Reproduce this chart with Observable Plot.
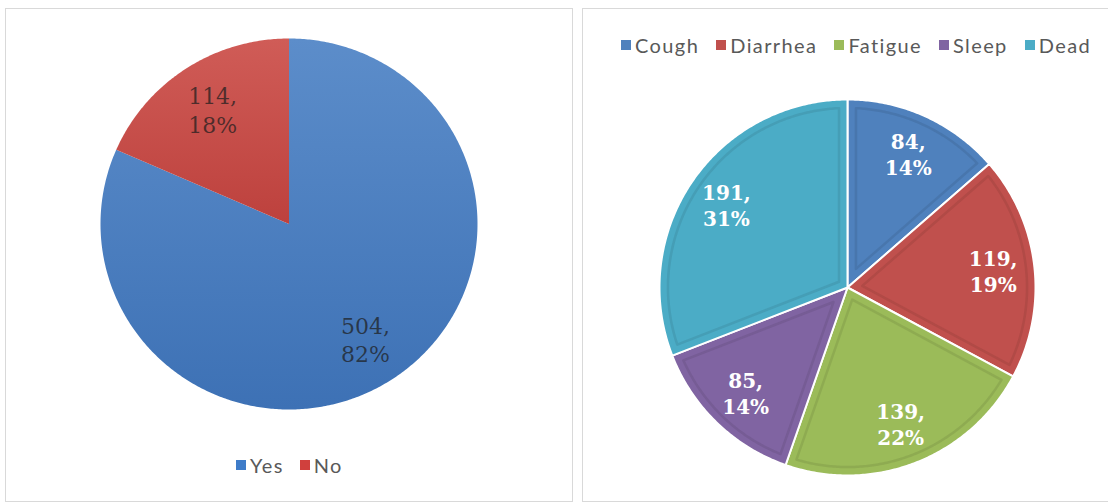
<!DOCTYPE html>
<html>
<head>
<meta charset="utf-8">
<script src="https://cdn.jsdelivr.net/npm/d3@7"></script>
<script src="https://cdn.jsdelivr.net/npm/@observablehq/plot@0.6"></script>
<style>
  body { margin: 0; width: 1108px; height: 504px; position: relative; overflow: hidden; background: #fff; font-family: Lato, "Open Sans", sans-serif; }
  .panel { position: absolute; box-sizing: border-box; border: 1px solid #d9d9d9; background: #fff; }
  .chart { position: absolute; }
  .chart svg { display: block; overflow: visible; }
  .legend { position: absolute; display: flex; align-items: center; color: #595959; font-size: 20px; letter-spacing: 1.4px; white-space: nowrap; }
  .legend .item { display: flex; align-items: center; }
  .legend .sw { display: inline-block; width: 10px; height: 10px; margin-right: 4px; }
</style>
</head>
<body>
<div class="panel" style="left:5px; top:8px; width:568px; height:494px;"></div>
<div class="panel" style="left:582px; top:8px; width:532px; height:494px;"></div>
<div class="chart" id="pieAnswer" style="left:98px; top:36px;"></div>
<div class="chart" id="pieSymptom" style="left:657px; top:97px;"></div>
<div class="legend" id="legendAnswer" style="left:236px; top:453px;"></div>
<div class="legend" id="legendSymptom" style="left:621px; top:33px;"></div>

<script>
// Survey answers (left pie)
const answers = ["Yes", "No"];
const answerCounts = [504, 114];
const answerColors = ["#4f81bd", "#c0504d"];

// Reported outcomes (right pie)
const symptoms = ["Cough", "Diarrhea", "Fatigue", "Sleep", "Dead"];
const symptomCounts = [84, 119, 139, 85, 191];
const symptomColors = ["#4f81bd", "#c0504d", "#9bbb59", "#8064a2", "#4bacc6"];

// Pie geometry in unit coordinates: angle 0 at 12 o'clock, clockwise.
function pieArcs(counts) {
  return d3.pie().sort(null).value(d => d)(counts);
}

// Polygon rows for each wedge; `inset` shrinks the wedge inward (unit radius fraction).
function wedgeRows(names, counts, inset = 0) {
  const rows = [];
  pieArcs(counts).forEach((a, i) => {
    const span = a.endAngle - a.startAngle;
    const half = span / 2;
    const mid = a.startAngle + half;
    const apexDist = inset ? inset / Math.sin(Math.min(half, Math.PI / 2)) : 0;
    rows.push({key: names[i], x: apexDist * Math.sin(mid), y: apexDist * Math.cos(mid)});
    const r = 1 - inset;
    const da = inset ? Math.asin(inset / r) : 0;
    const a0 = a.startAngle + da, a1 = a.endAngle - da;
    const n = Math.max(4, Math.ceil((a1 - a0) / 0.01));
    for (let k = 0; k <= n; k++) {
      const t = a0 + (a1 - a0) * k / n;
      rows.push({key: names[i], x: r * Math.sin(t), y: r * Math.cos(t)});
    }
  });
  return rows;
}

// "value,\npercent" labels on each wedge's bisector.
function labelRows(names, counts, frac) {
  const total = d3.sum(counts);
  return pieArcs(counts).map((a, i) => {
    const mid = (a.startAngle + a.endAngle) / 2;
    return {
      key: names[i],
      x: frac * Math.sin(mid),
      y: frac * Math.cos(mid),
      text: `${counts[i]},\n${Math.round(counts[i] / total * 100)}%`
    };
  });
}

function addGradients(svg, specs) {
  const defs = d3.select(svg).insert("defs", ":first-child");
  specs.forEach(([id, top, bottom]) => {
    const g = defs.append("linearGradient").attr("id", id).attr("x1", 0).attr("y1", 0).attr("x2", 0).attr("y2", 1);
    g.append("stop").attr("offset", "0%").attr("stop-color", top);
    g.append("stop").attr("offset", "100%").attr("stop-color", bottom);
  });
}

function legend(el, names, colors, gap) {
  const root = d3.select(el);
  names.forEach((n, i) => {
    const item = root.append("span").attr("class", "item").style("margin-right", i < names.length - 1 ? gap + "px" : "0px");
    item.append("span").attr("class", "sw").style("background", colors[i]);
    item.append("span").text(n);
  });
}

// Left pie: Yes / No
{
  const w = 381, h = 375, m = 2;
  const svg = Plot.plot({
    width: w, height: h,
    marginTop: m, marginBottom: m, marginLeft: m, marginRight: m,
    x: {domain: [-1, 1], axis: null},
    y: {domain: [-1, 1], axis: null},
    color: {domain: answers, range: ["url(#gYes)", "url(#gNo)"]},
    marks: [
      Plot.line(wedgeRows(answers, answerCounts), {x: "x", y: "y", z: "key", fill: "key", stroke: "none", curve: "linear-closed"}),
      Plot.text(labelRows(answers, answerCounts, 0.74), {
        x: "x", y: "y", text: "text", fontSize: 22, lineHeight: 1.3,
        fontFamily: "DejaVu Serif", fill: "#1e1e1e", fillOpacity: 0.72
      })
    ]
  });
  addGradients(svg, [["gYes", "#5c8dca", "#3d71b5"], ["gNo", "#d05c57", "#bd413d"]]);
  document.getElementById("pieAnswer").append(svg);
  legend(document.getElementById("legendAnswer"), answers, ["#3e7cc9", "#d0403d"], 16);
}

// Right pie: symptoms, with a bevelled edge on each wedge
{
  const w = 380, h = 380, m = 2;
  const dark = symptomColors.map(c => d3.color(c).darker(0.5).formatHex());
  const svg = Plot.plot({
    width: w, height: h,
    marginTop: m, marginBottom: m, marginLeft: m, marginRight: m,
    x: {domain: [-1, 1], axis: null},
    y: {domain: [-1, 1], axis: null},
    color: {domain: symptoms, range: symptomColors},
    marks: [
      Plot.line(wedgeRows(symptoms, symptomCounts), {x: "x", y: "y", z: "key", fill: "key", stroke: "#ffffff", strokeWidth: 2, curve: "linear-closed"}),
      Plot.line(wedgeRows(symptoms, symptomCounts, 0.045), {x: "x", y: "y", z: "key", stroke: (d) => dark[symptoms.indexOf(d.key)], strokeWidth: 2.5, strokeOpacity: 0.5, curve: "linear-closed"}),
      Plot.text(labelRows(symptoms, symptomCounts, 0.78), {
        x: "x", y: "y", text: "text", fontSize: 20, lineHeight: 1.3, fontWeight: "bold",
        fontFamily: "DejaVu Serif", fill: "#ffffff"
      })
    ]
  });
  document.getElementById("pieSymptom").append(svg);
  legend(document.getElementById("legendSymptom"), symptoms, symptomColors, 17);
}
</script>
</body>
</html>
